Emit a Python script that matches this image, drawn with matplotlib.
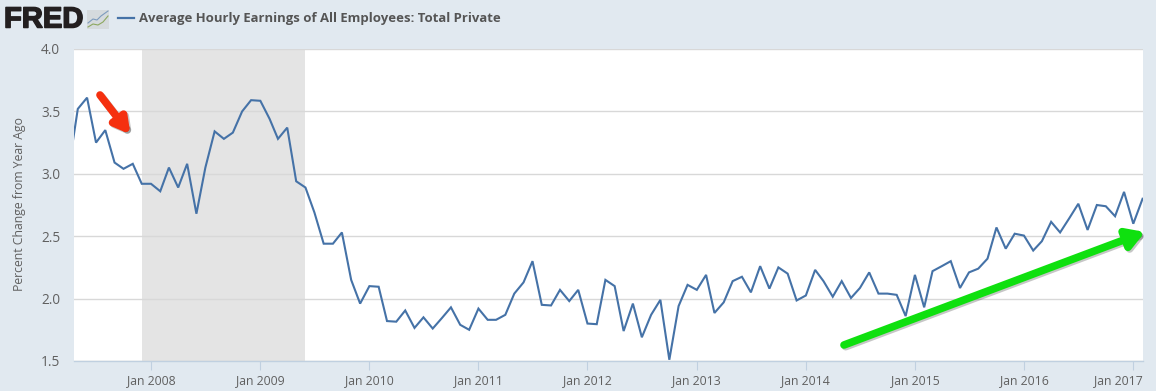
import matplotlib
matplotlib.use('Agg')
import matplotlib.pyplot as plt
import matplotlib.patheffects as pe
import matplotlib.dates as mdates
from matplotlib.patches import FancyArrowPatch, Rectangle
from matplotlib.lines import Line2D
from matplotlib.transforms import ScaledTranslation
import pandas as pd

W, H = 1156, 391

title = "Average Hourly Earnings of All Employees: Total Private"
y_label = "Percent Change from Year Ago"
y_ticks = [1.5, 2.0, 2.5, 3.0, 3.5, 4.0]
x_tick_years = [2008, 2009, 2010, 2011, 2012, 2013, 2014, 2015, 2016, 2017]

start_month = "2007-04-01"
earnings_change = [
    3.05, 3.52, 3.61, 3.25, 3.35, 3.09, 3.04, 3.08, 2.92,
    2.92, 2.86, 3.05, 2.89, 3.08, 2.68, 3.05, 3.34, 3.28, 3.33, 3.50, 3.59,
    3.585, 3.44, 3.28, 3.37, 2.94, 2.89, 2.69, 2.44, 2.44, 2.53, 2.15, 1.96,
    2.10, 2.095, 1.82, 1.815, 1.905, 1.765, 1.85, 1.76, 1.845, 1.93, 1.79, 1.75,
    1.92, 1.83, 1.83, 1.87, 2.04, 2.13, 2.30, 1.95, 1.945, 2.07, 1.98, 2.07,
    1.80, 1.795, 2.15, 2.10, 1.74, 1.96, 1.69, 1.87, 1.99, 1.51, 1.94, 2.11,
    2.07, 2.19, 1.885, 1.97, 2.14, 2.175, 2.05, 2.26, 2.08, 2.25, 2.20, 1.985,
    2.025, 2.23, 2.14, 2.015, 2.14, 2.005, 2.085, 2.21, 2.04, 2.04, 2.03, 1.86,
    2.19, 1.93, 2.22, 2.26, 2.30, 2.085, 2.21, 2.24, 2.32, 2.57, 2.40, 2.52,
    2.505, 2.385, 2.46, 2.615, 2.53, 2.645, 2.76, 2.55, 2.75, 2.74, 2.66, 2.855,
    2.60, 2.80,
]
recession_start = "2007-12-01"
recession_end = "2009-06-01"

BG = '#e1e9f0'
LINE = '#4572a7'
GRID = '#d8d8d8'
AXIS = '#c0d0e0'
TEXT = '#606060'

plt.rcParams['font.family'] = ['Open Sans', 'DejaVu Sans']


def fx(px):
    return px / W


def fy(py):
    return 1 - py / H


def hand_arrow(start, end, color, lw, head):
    # rounded stroke so both the tail and the head get soft corners
    style = '-|>,head_length=%.2f,head_width=%.2f' % head
    shadow = [pe.Stroke(offset=(1.2, -1.2), foreground='#444444', alpha=0.3), pe.Normal()]
    arrow = FancyArrowPatch((fx(start[0]), fy(start[1])), (fx(end[0]), fy(end[1])),
                            transform=fig.transFigure, arrowstyle=style, mutation_scale=10,
                            color=color, lw=lw, capstyle='round', joinstyle='round',
                            shrinkA=0, shrinkB=0, path_effects=shadow)
    fig.add_artist(arrow)


dates = pd.date_range(start_month, periods=len(earnings_change), freq='MS')

fig = plt.figure(figsize=(W / 100, H / 100), dpi=100, facecolor=BG)
ax = fig.add_axes([fx(74), fy(361), (1143 - 74) / W, (361 - 49) / H])

ax.axvspan(pd.Timestamp(recession_start), pd.Timestamp(recession_end),
           color='#e4e4e4', lw=0, zorder=1)
ax.plot(dates, earnings_change, color=LINE, lw=1.5, zorder=3, solid_joinstyle='miter')

# x scale fixed from tick positions in the picture (Jan 2008 at 151px, Jan 2017 at 1133px)
px_per_day = (1133.3 - 151) / (pd.Timestamp("2017-01-01") - pd.Timestamp("2008-01-01")).days
jan08 = mdates.date2num(pd.Timestamp("2008-01-01"))
ax.set_xlim(jan08 - (151 - 74) / px_per_day, jan08 + (1143 - 151) / px_per_day)
ax.set_ylim(1.5, 4.0)

ax.set_yticks(y_ticks)
ax.set_yticklabels(["%.1f" % v for v in y_ticks], fontsize=9.8, color=TEXT)
ax.set_xticks([pd.Timestamp(str(y) + "-01-01") for y in x_tick_years])
ax.set_xticklabels(["Jan " + str(y) for y in x_tick_years], fontsize=8.8, color=TEXT)
ax.tick_params(axis='y', length=0, pad=10)
ax.tick_params(axis='x', length=6.5, width=0.8, color=AXIS, pad=3)

# last label is pushed in so it stays inside the chart
last = ax.get_xticklabels()[-1]
last.set_ha('right')
last.set_transform(last.get_transform() + ScaledTranslation(9 / 100, 0, fig.dpi_scale_trans))

ax.grid(axis='y', color=GRID, lw=1, zorder=2)
ax.set_axisbelow(False)
ax.grid(axis='x', visible=False)
for side in ['left', 'right', 'top']:
    ax.spines[side].set_visible(False)
ax.spines['bottom'].set_color(AXIS)
ax.spines['bottom'].set_linewidth(1)

fig.text(fx(19.5), fy(204), y_label, rotation=90, ha='center', va='center',
         fontsize=8.8, color=TEXT)

# header
fig.text(fx(4), fy(19.5), "FRED", fontsize=21, fontweight='bold', color='#231f20',
         ha='left', va='center', family=['Liberation Sans', 'DejaVu Sans'],
         path_effects=[pe.withStroke(linewidth=1.1, foreground='#231f20')])
fig.add_artist(Rectangle((fx(87), fy(29)), 22 / W, 19 / H, transform=fig.transFigure,
                         facecolor='#d5dadd', edgecolor='none'))
fig.add_artist(Line2D([fx(88), fx(93), fx(97), fx(101), fx(108)],
                      [fy(23), fy(19), fy(20), fy(16), fy(11)],
                      transform=fig.transFigure, color='#7d9bbd', lw=0.8))
fig.add_artist(Line2D([fx(88), fx(93), fx(98), fx(103), fx(108)],
                      [fy(27), fy(24), fy(25), fy(22), fy(16)],
                      transform=fig.transFigure, color='#8da860', lw=0.8))
fig.add_artist(Line2D([fx(118), fx(134)], [fy(18), fy(18)],
                      transform=fig.transFigure, color=LINE, lw=1.6))
fig.text(fx(139), fy(18.5), title, fontsize=9.47, fontweight='bold', color='#555555',
         ha='left', va='center')

# hand drawn arrows on top of the chart
hand_arrow((100, 95), (130.5, 134.5), '#f5300f', 5.5, (0.9, 0.5))
hand_arrow((844, 345), (1145, 232), '#0fe00f', 5.5, (1.0, 0.6))

fig.savefig('out.png', dpi=100, facecolor=BG)
